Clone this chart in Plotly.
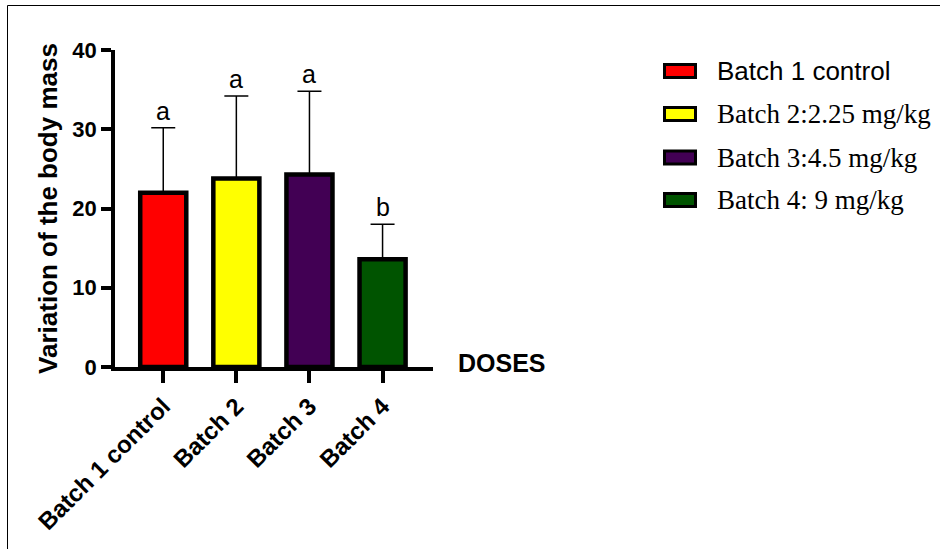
import plotly.graph_objects as go

categories = ["Batch 1 control", "Batch 2", "Batch 3", "Batch 4"]
means = [22.0, 23.8, 24.3, 13.6]
sds = [8.2, 10.4, 10.5, 4.4]
letters = ["a", "a", "a", "b"]
legend_labels = ["Batch 1 control", "Batch 2:2.25 mg/kg", "Batch 3:4.5 mg/kg", "Batch 4: 9 mg/kg"]
colors = ["#FF0000", "#FFFF00", "#420054", "#005400"]
y_ticks = [0, 10, 20, 30, 40]

W, H = 940, 549
L, R, T, B = 115, 433, 50, 367  # plot area in figure pixels


def px(x):
    return (x - L) / (R - L)


def py(y):
    return (B - y) / (B - T)


SANS = "Liberation Sans, Arial, sans-serif"
SERIF = "Liberation Serif, Times New Roman, serif"

fig = go.Figure()
fig.add_trace(go.Bar(
    x=categories, y=means, width=0.63,
    marker=dict(color=colors, line=dict(color="black", width=4.5)),
    error_y=dict(type="data", array=sds, arrayminus=[0] * len(sds), symmetric=False,
                 color="black", thickness=1.5, width=12),
    showlegend=False,
))

annotations = []
for c, m, s, l in zip(categories, means, sds, letters):
    annotations.append(dict(x=c, y=m + s, text=l, showarrow=False, yanchor="bottom",
                            yshift=1, font=dict(family=SANS, size=25, color="black")))

annotations.append(dict(x=px(456), y=py(362.5), xref="paper", yref="paper", text="DOSES",
                        showarrow=False, xanchor="left", yanchor="middle",
                        font=dict(family=SANS, size=25, color="black", weight="bold")))

shapes = []
# frame lines
shapes.append(dict(type="line", xref="paper", yref="paper", x0=px(7.5), x1=px(7.5), y0=py(5.5), y1=py(560),
                   line=dict(color="black", width=1)))
shapes.append(dict(type="line", xref="paper", yref="paper", x0=px(7.5), x1=px(960), y0=py(5.5), y1=py(5.5),
                   line=dict(color="black", width=1)))

row_y = [71, 114, 157.5, 200]
for i, (lab, col) in enumerate(zip(legend_labels, colors)):
    yc = row_y[i]
    shapes.append(dict(type="rect", xref="paper", yref="paper",
                       x0=px(664.5), x1=px(695.5), y0=py(yc - 6.5), y1=py(yc + 6.5),
                       fillcolor=col, line=dict(color="black", width=3)))
    fam = SANS if i == 0 else SERIF
    size = 26 if i == 0 else 27
    annotations.append(dict(x=px(715), y=py(yc), xref="paper", yref="paper", text=lab,
                            showarrow=False, xanchor="left", yanchor="middle",
                            font=dict(family=fam, size=size, color="black")))

fig.update_layout(
    width=W, height=H,
    margin=dict(l=L, r=W - R, t=T, b=H - B, autoexpand=False),
    plot_bgcolor="white", paper_bgcolor="white",
    showlegend=False,
    annotations=annotations,
    shapes=shapes,
    font=dict(family=SANS, color="black"),
)
fig.update_xaxes(
    range=[-0.66, 3.69], showline=True, linecolor="black", linewidth=3.5,
    ticks="outside", ticklen=12, tickwidth=3.5, tickcolor="black",
    tickangle=-45, tickfont=dict(family=SANS, size=24, color="black", weight="bold"),
    showgrid=False, zeroline=False, automargin=False,
)
fig.update_yaxes(
    range=[0, 40], tickvals=y_ticks, showline=True, linecolor="black", linewidth=3.5,
    ticks="outside", ticklen=10, tickwidth=3.5, tickcolor="black",
    tickfont=dict(family=SANS, size=22, color="black", weight="bold"),
    showgrid=False, zeroline=False, automargin=False,
    title=dict(text="Variation of the body mass",
               font=dict(family=SANS, size=26, color="black", weight="bold"),
               standoff=8),
)

fig.write_html("out.html", config={"displayModeBar": False},
               post_script="document.body.style.margin='0';document.body.style.overflow='hidden';")
